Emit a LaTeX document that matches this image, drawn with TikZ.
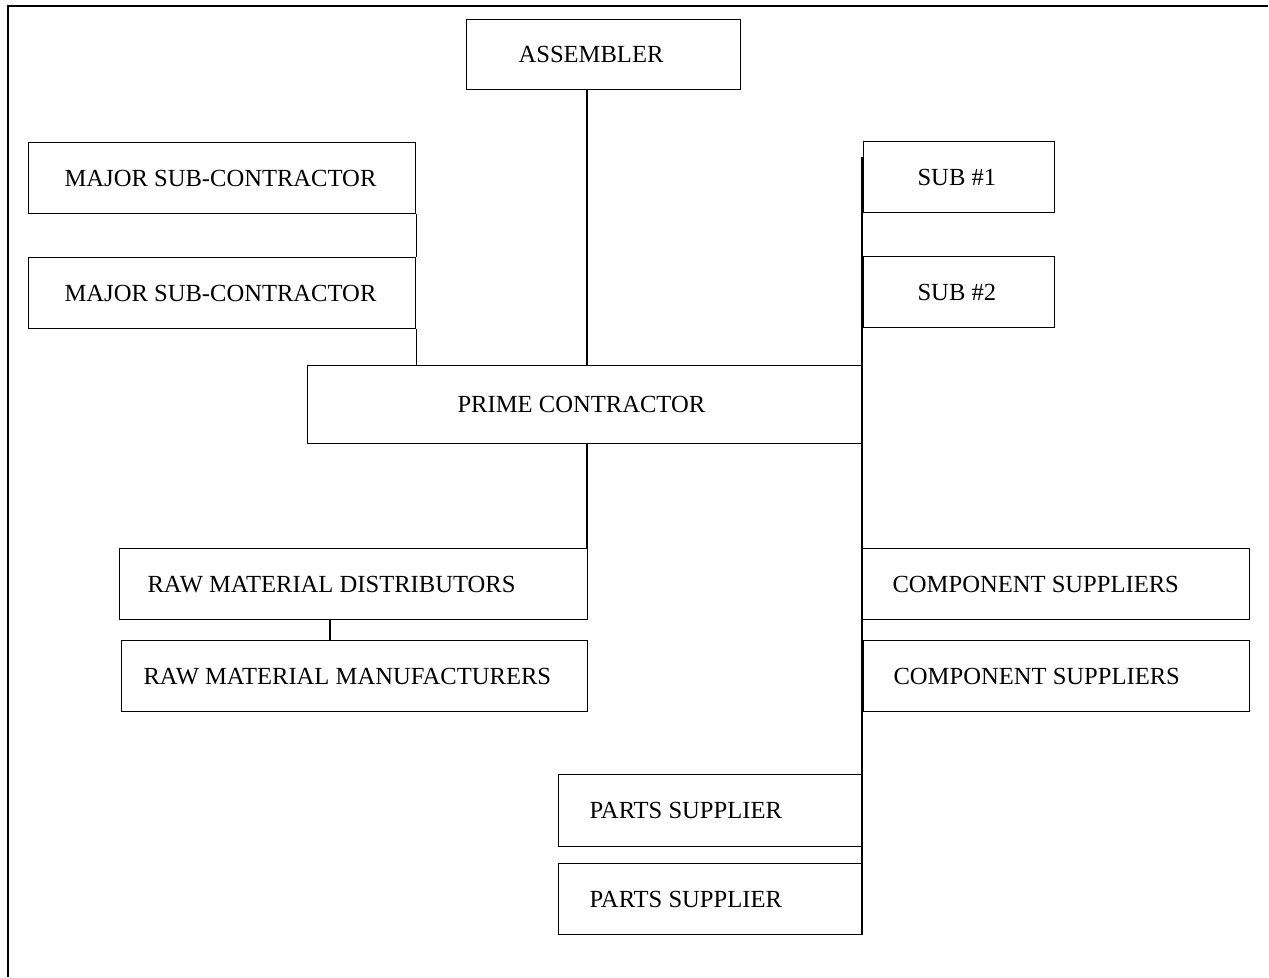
\documentclass[tikz,border=0pt]{standalone}
\usepackage{fontspec}
\setmainfont{Liberation Serif}
\tikzset{
  % a firm in the chain; #1 = text width, #2 = inset of the text
  firm/.style 2 args = {draw, line width=0.55bp, rectangle, anchor=north west,
                        inner ysep=0pt, text width=#1, inner xsep=#2,
                        align=flush left, minimum height=35.5bp,
                        font=\fontsize{12.3bp}{14bp}\selectfont},
  % a tie between two firms
  tie/.style  = {line width=0.55bp},
  % the page frame
  frm/.style  = {line width=1.1bp},
}

\begin{document}
\begin{tikzpicture}[x=0.5bp, y=-0.5bp]
  \useasboundingbox (0,0) rectangle (1269,977);
  \draw[frm] (8,977) -- (8,6) -- (1268,6);
  % top and the prime contractor
  \node[firm={85bp}{26bp}, minimum height=35bp]      (asm)   at (466,19)  {ASSEMBLER};
  \node[firm={127.5bp}{75bp}, minimum height=39bp]   (prime) at (307,365) {PRIME CONTRACTOR};
  % left column
  \node[firm={157.5bp}{18bp}] (maj1) at (28,142) {MAJOR SUB-CONTRACTOR};
  \node[firm={157.5bp}{18bp}] (maj2) at (28,257) {MAJOR SUB-CONTRACTOR};
  \node[firm={206bp}{14bp}]   (rmd)  at (119,548) {RAW MATERIAL DISTRIBUTORS};
  \node[firm={211bp}{11bp}]   (rmm)  at (121,640) {RAW MATERIAL MANUFACTURERS};
  % right column
  \node[firm={41.5bp}{27bp}]  (sub1) at (863,141) {SUB \#1};
  \node[firm={41.5bp}{27bp}]  (sub2) at (863,256) {SUB \#2};
  \node[firm={163.5bp}{15bp}] (cmp1) at (862,548) {COMPONENT SUPPLIERS};
  \node[firm={163bp}{15bp}]   (cmp2) at (863,640) {COMPONENT SUPPLIERS};
  \node[firm={121bp}{15.5bp}, minimum height=36bp] (prt1) at (558,774) {PARTS SUPPLIER};
  \node[firm={121bp}{15.5bp}] (prt2) at (558,863) {PARTS SUPPLIER};
  % ties
  \coordinate (trunk) at (587,0);
  \coordinate (rtop)  at (862,157);
  \draw[tie] (asm.south -| trunk) -- (prime.north -| trunk);
  \draw[tie] (prime.south -| trunk) -- (rmd.north -| trunk);
  \draw[tie] (maj1.south east) -- (maj2.north east);
  \draw[tie] (maj2.south east) -- (maj2.south east |- prime.north);
  \draw[tie] ([xshift=105.5bp]rmd.south west) -- ([xshift=105.5bp]rmd.south west |- rmm.north);
  \draw[tie] (rtop) -- (rtop |- prt2.south);
\end{tikzpicture}
\end{document}
